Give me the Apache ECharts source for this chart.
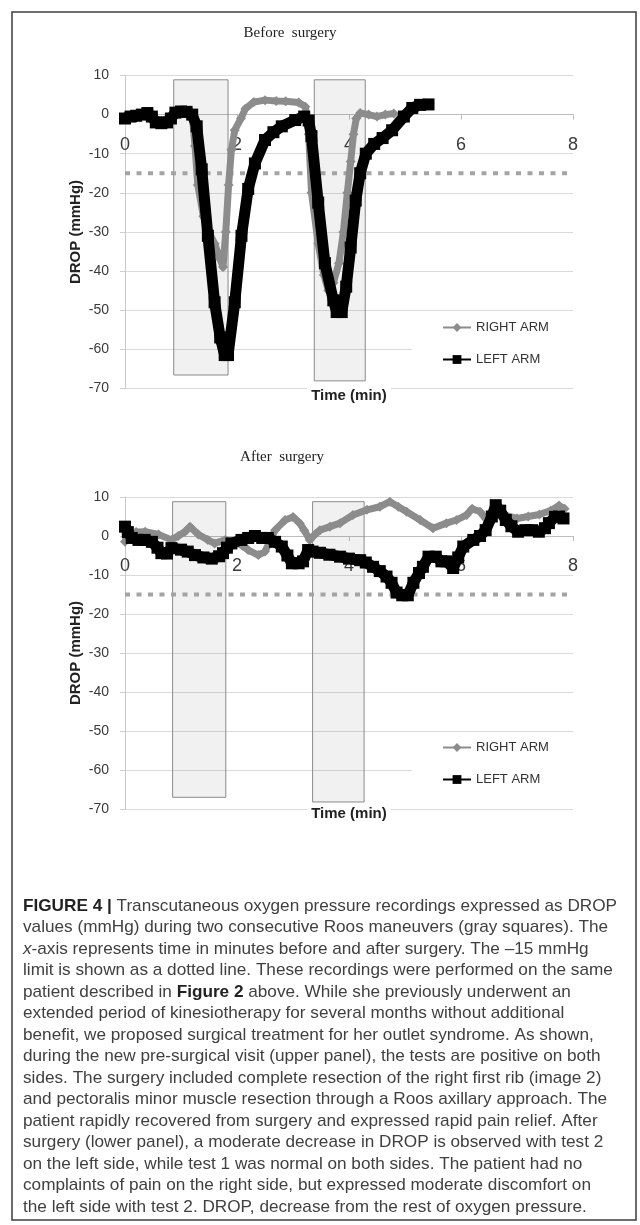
<!DOCTYPE html>
<html><head><meta charset="utf-8">
<script src="https://cdn.jsdelivr.net/npm/echarts@6/dist/echarts.min.js"></script>
<style>html,body{margin:0;padding:0;background:#fff}#c{width:640px;height:1225px}</style>
</head><body><div id="c"></div>
<script>
// ---------- DATA ----------
const beforeRight = [[0,-0.5],[0.3,0.3],[0.5,-1],[0.7,-1.5],[0.9,0.5],[1.15,0.5],[1.2,0],[1.25,-8],[1.3,-18],[1.4,-26],[1.5,-30],[1.6,-33],[1.7,-37],[1.75,-39],[1.8,-30],[1.85,-18],[1.9,-9],[1.96,-4],[2.07,-1],[2.15,1.5],[2.3,3.2],[2.5,3.7],[2.7,3.5],[2.87,3.4],[3.1,3.1],[3.22,2],[3.28,-5],[3.33,-20],[3.45,-33],[3.55,-41],[3.63,-45],[3.72,-43],[3.82,-38],[3.9,-30],[3.97,-20],[4.03,-12],[4.08,-5],[4.13,-1],[4.2,0.4],[4.35,0],[4.5,-0.5],[4.65,0],[4.8,0.3]];
const beforeLeft = [[0,-1],[0.1,-0.5],[0.2,-0.3],[0.3,0],[0.4,0.4],[0.48,-0.5],[0.55,-2],[0.65,-2.2],[0.75,-2],[0.82,-1],[0.9,0.5],[1.0,0.8],[1.1,0.7],[1.2,0],[1.28,-3],[1.37,-14],[1.48,-31],[1.6,-48],[1.7,-57],[1.78,-61.5],[1.84,-61.5],[1.96,-48],[2.08,-31],[2.2,-19],[2.32,-12.5],[2.5,-6.5],[2.65,-4.5],[2.8,-3],[3.04,-1.4],[3.2,-0.5],[3.28,-1.5],[3.33,-5.5],[3.45,-22.5],[3.57,-38],[3.72,-47.5],[3.78,-50.5],[3.87,-50.5],[3.95,-44],[4.03,-34],[4.12,-22],[4.2,-15],[4.3,-10],[4.45,-7.5],[4.6,-6],[4.77,-4],[4.98,-0.5],[5.13,1.7],[5.27,2.5],[5.42,2.6]];
const afterRight = [[0,-1.5],[0.05,0.8],[0.2,1],[0.36,1.1],[0.6,0.4],[0.83,-1],[0.95,0],[1.07,1.1],[1.16,2.4],[1.31,0.4],[1.48,-1],[1.6,-1.9],[1.79,-1],[1.96,-1.5],[2.1,-2.5],[2.2,-3.6],[2.38,-4.9],[2.5,-4],[2.6,-1],[2.68,1.5],[2.86,4.1],[3.0,4.9],[3.12,3.3],[3.2,1.5],[3.3,-1],[3.4,0.5],[3.48,1.5],[3.66,2.4],[3.84,3.3],[4.07,5.4],[4.32,6.7],[4.55,7.5],[4.73,8.8],[4.88,7.5],[5.03,6.2],[5.27,4.1],[5.5,2],[5.74,3.3],[5.92,4.1],[6.1,5.4],[6.2,7],[6.34,6.2],[6.44,4.5],[6.6,5],[6.75,5.5],[7.0,4.5],[7.2,5],[7.4,5.5],[7.6,6.5],[7.75,7.8],[7.85,7]];
const afterLeft = [[0,2.4],[0.05,1],[0.12,-0.5],[0.24,-1],[0.35,-1],[0.48,-1.5],[0.58,-3],[0.65,-4.4],[0.75,-4.5],[0.83,-3.1],[1.0,-3.5],[1.12,-4],[1.25,-4.9],[1.4,-5.5],[1.55,-5.8],[1.68,-5.2],[1.75,-4.4],[1.82,-3],[1.9,-1.9],[2.08,-1],[2.2,-0.5],[2.32,0],[2.45,-0.5],[2.55,-0.5],[2.68,-1.5],[2.8,-2.7],[2.9,-5],[2.98,-7],[3.1,-7],[3.18,-6.5],[3.27,-3.6],[3.35,-4],[3.48,-4.3],[3.65,-4.8],[3.84,-5.3],[4.0,-5.8],[4.2,-6.2],[4.3,-6.8],[4.43,-7.9],[4.55,-9],[4.67,-10.4],[4.76,-12],[4.85,-14.5],[4.95,-15.2],[5.05,-15.2],[5.15,-12],[5.25,-9.5],[5.32,-7.9],[5.42,-5.3],[5.55,-5.3],[5.65,-6.5],[5.74,-6.5],[5.86,-8.2],[5.95,-5.5],[6.04,-2.7],[6.22,-1],[6.34,0],[6.44,1.5],[6.55,5],[6.62,7.9],[6.7,6.5],[6.8,4.1],[6.9,2.5],[7.02,1.1],[7.15,1.5],[7.27,1.5],[7.39,1.1],[7.5,2],[7.57,3.3],[7.68,4.9],[7.75,5],[7.83,4.5]];
// Roos maneuver boxes: [xStart, xEnd, yTop, yBottom]
const boxesBefore = [[0.87,1.84,8.9,-66.6],[3.38,4.29,8.9,-68.1]];
const boxesAfter  = [[0.85,1.80,8.8,-67.0],[3.35,4.27,8.8,-68.2]];
const limitValue = -15, limitStart = 0, limitEnd = 7.9;
const xMin = 0, xMax = 8, xStep = 2;
const yMin = -70, yMax = 10, yStep = 10;
const seriesNames = ['RIGHT ARM', 'LEFT ARM'];
const panelTitles = ['Before  surgery', 'After  surgery'];
const captionLines = [
  '{b|FIGURE 4 |} Transcutaneous oxygen pressure recordings expressed as DROP',
  'values (mmHg) during two consecutive Roos maneuvers (gray squares). The',
  '{i|x}-axis represents time in minutes before and after surgery. The –15 mmHg',
  'limit is shown as a dotted line. These recordings were performed on the same',
  'patient described in {b|Figure 2} above. While she previously underwent an',
  'extended period of kinesiotherapy for several months without additional',
  'benefit, we proposed surgical treatment for her outlet syndrome. As shown,',
  'during the new pre-surgical visit (upper panel), the tests are positive on both',
  'sides. The surgery included complete resection of the right first rib (image 2)',
  'and pectoralis minor muscle resection through a Roos axillary approach. The',
  'patient rapidly recovered from surgery and expressed rapid pain relief. After',
  'surgery (lower panel), a moderate decrease in DROP is observed with test 2',
  'on the left side, while test 1 was normal on both sides. The patient had no',
  'complaints of pain on the right side, but expressed moderate discomfort on',
  'the left side with test 2. DROP, decrease from the rest of oxygen pressure.'
];

// ---------- LAYOUT ----------
const FONT = '"Liberation Sans", Arial, sans-serif';
const grids = [{left:125, top:75.5, width:448, height:312.8}, {left:125, top:497, width:448, height:312}];
// x axis sits on the y = 0 line: shift it up from the grid bottom by the 0..min span
const zeroOffset = grids.map(g => -g.height * (0 - yMin) / (yMax - yMin));

const ctx = document.createElement('canvas').getContext('2d');
ctx.font = '15px ' + FONT;
let maxW = 0;
captionLines.forEach(l => { maxW = Math.max(maxW, ctx.measureText(l.replace(/\{[bi]\|([^}]*)\}/g, '$1')).width); });
const capSize = 15 * 594 / maxW;

const chart = echarts.init(document.getElementById('c'), null, {renderer:'canvas'});

function xAxisFor(i){
  return {type:'value', gridIndex:i, min:xMin, max:xMax, interval:xStep, position:'bottom', offset:zeroOffset[i],
    axisLine:{onZero:false, lineStyle:{color:'#bdbdbd', width:1}},
    axisTick:{show:true, length:5, lineStyle:{color:'#bdbdbd'}},
    axisLabel:{fontSize:18, color:'#3a3a3a', fontFamily:FONT, margin:21, showMinLabel:true, showMaxLabel:true},
    splitLine:{show:false}};
}
function yAxisFor(i){
  return {type:'value', gridIndex:i, min:yMin, max:yMax, interval:yStep,
    axisLine:{show:true, lineStyle:{color:'#c8c8c8'}},
    axisTick:{show:true, length:5, lineStyle:{color:'#d0d0d0'}},
    axisLabel:{fontSize:14, color:'#3a3a3a', fontFamily:FONT, margin:16},
    splitLine:{show:true, lineStyle:{color:'#dadada', width:1}}};
}
function boxArea(boxes){
  return {silent:true,
    itemStyle:{color:'rgba(0,0,0,0.055)', borderColor:'#8a8a8a', borderWidth:1},
    data: boxes.map(b => [{coord:[b[0], b[2]]}, {coord:[b[1], b[3]]}])};
}
function panelSeries(i, right, left, boxes){
  return [
    {type:'line', xAxisIndex:i, yAxisIndex:i, data:[[limitStart, limitValue],[limitEnd, limitValue]],
     symbol:'none', z:1, silent:true,
     lineStyle:{color:'#a4a4a4', width:4, type:[5,6.5], cap:'butt'},
     markArea: boxArea(boxes)},
    {name:seriesNames[0], type:'line', xAxisIndex:i, yAxisIndex:i, data:right, z:3,
     symbol:'diamond', symbolSize:10, showAllSymbol:true,
     itemStyle:{color:'#8c8c8c'}, lineStyle:{color:'#8c8c8c', width:7, join:'round'}},
    {name:seriesNames[1], type:'line', xAxisIndex:i, yAxisIndex:i, data:left, z:4,
     symbol:'rect', symbolSize:12, showAllSymbol:true,
     itemStyle:{color:'#000'}, lineStyle:{color:'#000', width:11, join:'round'}}
  ];
}
function legendFor(top){
  return {orient:'vertical', left:412, top:top, backgroundColor:'#fff', padding:[8,36,8,30],
    itemWidth:28, itemHeight:11, itemGap:19, data:seriesNames, selectedMode:false,
    lineStyle:{width:2}, textStyle:{fontSize:13, color:'#333', fontFamily:FONT}};
}
function txt(x, y, text, font, extra){
  return {type:'text', x:x, y:y, z:100, silent:true,
    style:Object.assign({text:text, font:font, fill:'#222', textAlign:'center', align:'center',
      textVerticalAlign:'middle', verticalAlign:'middle'}, extra||{})};
}

const graphic = [
  {type:'rect', shape:{x:12, y:12, width:624, height:1208}, style:{fill:'none', stroke:'#3c3c3c', lineWidth:1.5}, z:100, silent:true},
  txt(290, 33, panelTitles[0], '15px "Liberation Serif", serif'),
  txt(282, 457, panelTitles[1], '15px "Liberation Serif", serif'),
  txt(349, 396, 'Time (min)', 'bold 15px ' + FONT, {backgroundColor:'#fff', padding:[2,4]}),
  txt(349, 814, 'Time (min)', 'bold 15px ' + FONT, {backgroundColor:'#fff', padding:[2,4]}),
  Object.assign(txt(76, 232, 'DROP (mmHg)', 'bold 15px ' + FONT), {rotation:Math.PI/2}),
  Object.assign(txt(76, 653, 'DROP (mmHg)', 'bold 15px ' + FONT), {rotation:Math.PI/2})
];
captionLines.forEach((l, k) => {
  graphic.push({type:'text', x:23, y:906 + k*21.5, z:100, silent:true,
    style:{text:l, fontSize:capSize, fontFamily:FONT, fill:'#404040', textAlign:'left', align:'left',
      textVerticalAlign:'middle', verticalAlign:'middle',
      rich:{b:{fontWeight:'bold', fontSize:capSize, fontFamily:FONT, fill:'#222', color:'#222'},
            i:{fontStyle:'italic', fontSize:capSize, fontFamily:FONT, fill:'#404040', color:'#404040'}}}});
});

chart.setOption({
  animation:false,
  backgroundColor:'#fff',
  grid: grids,
  xAxis: [xAxisFor(0), xAxisFor(1)],
  yAxis: [yAxisFor(0), yAxisFor(1)],
  legend: [legendFor(313), legendFor(733)],
  series: [].concat(panelSeries(0, beforeRight, beforeLeft, boxesBefore), panelSeries(1, afterRight, afterLeft, boxesAfter)),
  graphic: graphic
});
</script></body></html>
